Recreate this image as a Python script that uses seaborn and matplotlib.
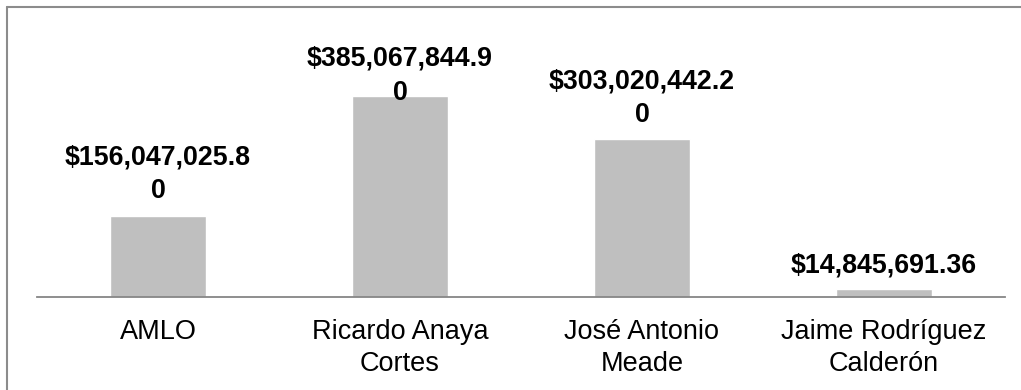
import textwrap
import matplotlib
matplotlib.use("Agg")
import matplotlib.pyplot as plt
from matplotlib.lines import Line2D
import seaborn as sns

candidates = ["AMLO", "Ricardo Anaya Cortes", "José Antonio Meade", "Jaime Rodríguez Calderón"]
spending = [156047025.80, 385067844.90, 303020442.20, 14845691.36]

sns.set_style("white")
plt.rcParams["font.family"] = ["Liberation Sans", "DejaVu Sans"]

W, H = 1021, 390
fig = plt.figure(figsize=(W / 100, H / 100), dpi=100)
ax = fig.add_axes([37 / W, (H - 297) / H, (1005 - 37) / W, (297 - 20) / H])

sns.barplot(x=candidates, y=spending, color="#BFBFBF", saturation=1, width=0.4, ax=ax)
ax.set_xlim(-0.5, len(candidates) - 0.5)
ax.set_ylim(0, 531e6)

for s in ["top", "right", "left"]:
    ax.spines[s].set_visible(False)
ax.spines["bottom"].set_color("#868686")
ax.spines["bottom"].set_linewidth(1.3)
ax.set_yticks([])
ax.set_xticks(range(len(candidates)))
ax.set_xticklabels([textwrap.fill(c, 15) for c in candidates], fontsize=19.5, color="black",
                   linespacing=1.3)
ax.tick_params(axis="x", length=0, pad=16)
ax.set_xlabel("")
ax.set_ylabel("")

# value labels, pushed down when they would run past the plot top
cap_y = H - 46
fig.canvas.draw()
renderer = fig.canvas.get_renderer()
for i, v in enumerate(spending):
    label = textwrap.fill(f"${v:,.2f}", 14)
    t = ax.annotate(label, xy=(i, v), xytext=(0, 8), textcoords="offset points",
                    ha="center", va="bottom", fontsize=19.3, fontweight="bold",
                    color="black", multialignment="center", linespacing=1.38)
    bb = t.get_window_extent(renderer)
    if bb.y1 > cap_y:
        shift = (bb.y1 - cap_y) * 72 / fig.dpi
        t.set_position((0, 8 - shift))

# chart frame (only top and left edges visible in the crop)
frame_kw = dict(color="#8C8C8C", linewidth=1.5, transform=fig.transFigure)
fig.add_artist(Line2D([7 / W, 1], [1 - 7 / H, 1 - 7 / H], **frame_kw))
fig.add_artist(Line2D([7 / W, 7 / W], [0, 1 - 7 / H], **frame_kw))

fig.savefig("out.png", dpi=100)
